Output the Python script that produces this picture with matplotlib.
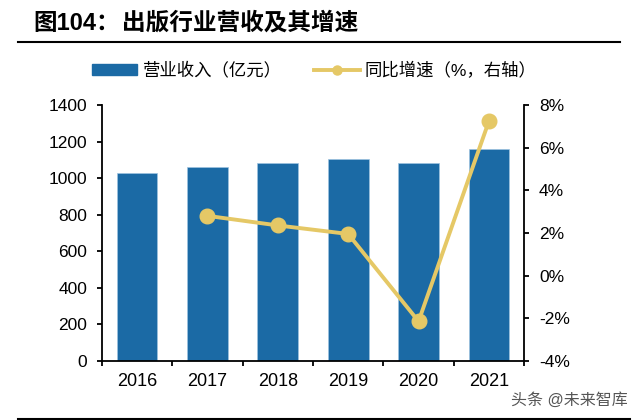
import numpy as np
import matplotlib
matplotlib.use('Agg')
import matplotlib.pyplot as plt
from matplotlib.lines import Line2D
from matplotlib.patches import Patch

plt.rcParams['font.family'] = ['Liberation Sans', 'Noto Sans CJK SC', 'DejaVu Sans']

# data
years = ['2016', '2017', '2018', '2019', '2020', '2021']
revenue = [1027, 1059, 1083, 1102, 1082, 1159]
growth_years = ['2017', '2018', '2019', '2020', '2021']
growth = [2.8, 2.35, 1.95, -2.15, 7.25]

bar_color = '#1B6AA5'
line_color = '#E5C866'

fig = plt.figure(figsize=(6.4, 4.2), dpi=100)
ax = fig.add_axes([0.159, 0.141, 0.660, 0.609])

x = np.arange(len(years))
ax.bar(x, revenue, width=0.58, color=bar_color, edgecolor='#9EC3E0', linewidth=0.5, zorder=2)
ax.set_xlim(-0.5, len(years) - 0.5)
ax.set_ylim(0, 1400)
ax.set_yticks(np.arange(0, 1401, 200))
ax.set_xticks(x)
ax.set_xticklabels(years)
ax.set_xticks(np.arange(-0.5, len(years), 1), minor=True)
ax.tick_params(axis='x', which='major', length=0, pad=9, labelsize=13)
ax.tick_params(axis='x', which='minor', length=3.5, direction='out', width=1.3)
ax.tick_params(axis='y', length=3.6, direction='out', labelsize=12.5, width=1.3, pad=7)
for s in ['top', 'right']:
    ax.spines[s].set_visible(False)
ax.spines['left'].set_linewidth(1.3)
ax.spines['bottom'].set_linewidth(1.3)

ax2 = ax.twinx()
gx = [years.index(y) for y in growth_years]
ax2.plot(gx, growth, color=line_color, linewidth=2.8, marker='o', markersize=10.5, zorder=3)
ax2.set_ylim(-4, 8)
ax2.set_yticks(np.arange(-4, 9, 2))
ax2.set_yticklabels([f'{v}%' for v in range(-4, 9, 2)])
ax2.tick_params(axis='y', length=3.6, direction='out', labelsize=12.5, width=1.3, pad=7)
for s in ['top', 'left', 'bottom']:
    ax2.spines[s].set_visible(False)
ax2.spines['right'].set_linewidth(1.3)

# title and rules
fig.text(0.052, 0.945, '图104：', fontsize=17, fontweight='bold', ha='left', va='center')
fig.text(0.1906, 0.945, '出版行业营收及其增速', fontsize=17, fontweight='bold',
         ha='left', va='center')
fig.add_artist(Line2D([0.028, 0.969], [0.90, 0.90], color='black', linewidth=1.5))
fig.add_artist(Line2D([0.028, 0.984], [0.0025, 0.0025], color='black', linewidth=1.5))

# legend
handles = [Patch(color=bar_color),
           Line2D([0], [0], color=line_color, linewidth=2.8, marker='o', markersize=6.5)]
labels = ['营业收入（亿元）', '同比增速（%，右轴）']
fig.legend(handles, labels, loc='center left', bbox_to_anchor=(0.144, 0.833), ncol=2,
           frameon=False, fontsize=12.5, handlelength=2.6, handleheight=0.6,
           columnspacing=1.9, handletextpad=0.3, borderpad=0, borderaxespad=0)

fig.text(0.981, 0.048, '头条 @未来智库', fontsize=11.5, color='#555555', ha='right', va='center')

fig.savefig('out.png', dpi=100)
